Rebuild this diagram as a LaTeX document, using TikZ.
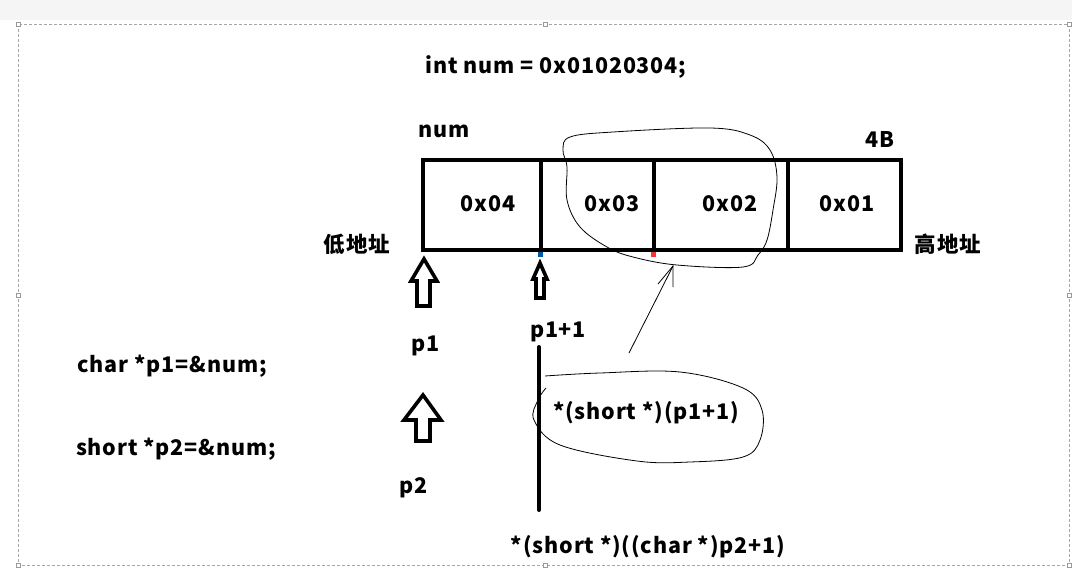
\documentclass[tikz,border=0pt]{standalone}
\usepackage{fontspec}
\setmainfont{Noto Sans CJK SC}[LetterSpace=4]
\begin{document}
\begin{tikzpicture}[x=1pt,y=-1pt,
  txt/.style={font=\fontsize{21.5}{24}\selectfont\bfseries, inner sep=0pt, text=black},
  cellline/.style={line width=4pt, line cap=round},
  hollow/.style={draw=black, line width=3.6pt, line join=miter, fill=white},
  pen/.style={draw=black, line width=0.8pt},
  frame/.style={draw=gray!70, dashed, line width=0.5pt, dash pattern=on 3pt off 2pt},
  handle/.style={draw=gray!80, fill=white, line width=0.5pt, minimum size=4pt, inner sep=0pt}]
\useasboundingbox (0,0) rectangle (1072,568);
\fill[white] (0,0) rectangle (1072,568);
\fill[gray!8] (0,0) rectangle (1072,20);
% selection frame
\draw[frame] (18,24) rectangle (1069,565);
\foreach \p/\q in {18/24,545/24,1069/24,18/295,1069/295,18/565,545/565,1069/565}
  \node[handle] at (\p,\q) {};
% title
\node[txt] (title) at (556,67) {int num = 0x01020304;};
\node[txt] (numlbl) at (444,131) {num};
\node[txt] (fourb) at (880,139) {4B};
% memory box
\draw[cellline] (423,160) rectangle (901,250);
\draw[cellline] (541,160) -- (541,250);
\draw[cellline] (654,160) -- (654,250);
\draw[cellline] (788,160) -- (788,250);
\node[txt] (c1) at (488,204) {0x04};
\node[txt] (c2) at (612,204) {0x03};
\node[txt] (c3) at (730,204) {0x02};
\node[txt] (c4) at (847,204) {0x01};
\fill[teal!70!blue] (538,252) rectangle (543,257);
\fill[red!80] (651,252) rectangle (656,257);
\node[txt] (low) at (357,244) {低地址};
\node[txt] (high) at (948,244) {高地址};
% hollow arrows
\draw[hollow] (424,259) -- (437,281) -- (430,281) -- (430,306) -- (417,306) -- (417,281) -- (411,281) -- cycle;
\draw[hollow] (540,263) -- (547,279) -- (544,279) -- (544,298) -- (536,298) -- (536,279) -- (533,279) -- cycle;
\draw[hollow] (423,395) -- (441,420) -- (430,420) -- (430,441) -- (416,441) -- (416,420) -- (404,420) -- cycle;
\node[txt] (p1) at (426,346) {p1};
\node[txt] (p1p1) at (558,332) {p1+1};
\node[txt] (p2) at (414,488) {p2};
\node[txt] (decl1) at (172,366) {char *p1=\&num;};
\node[txt] (decl2) at (176,449) {short *p2=\&num;};
% vertical bar
\coordinate (bt) at (539,347);
\coordinate (bb) at (539,510);
\draw[cellline] (bt) -- (bb);
\node[txt] (sp1) at (646,413) {*(short *)(p1+1)};
\node[txt] (sp2) at (648,547) {*(short *)((char *)p2+1)};
% hand-drawn loops
\draw[pen] plot[smooth cycle, tension=0.6] coordinates {(570,137) (613,132) (710,128) (750,135) (770,150) (777,177) (773,210) (767,240) (758,255) (743,267) (677,265) (633,257) (607,247) (580,227) (567,200) (567,167) (563,150)};
\draw[pen] plot[smooth, tension=0.6] coordinates {(545,376) (600,373) (680,372) (743,388) (762,410) (760,440) (743,457) (690,462) (637,461) (560,445) (534,420) (538,400) (546,388)};
% thin arrow
\coordinate (at) at (673,266);
\coordinate (af) at (629,353);
\draw[pen] (af) -- (at);
\draw[pen] (658,284) -- (at) -- (673,287);
\end{tikzpicture}
\end{document}
